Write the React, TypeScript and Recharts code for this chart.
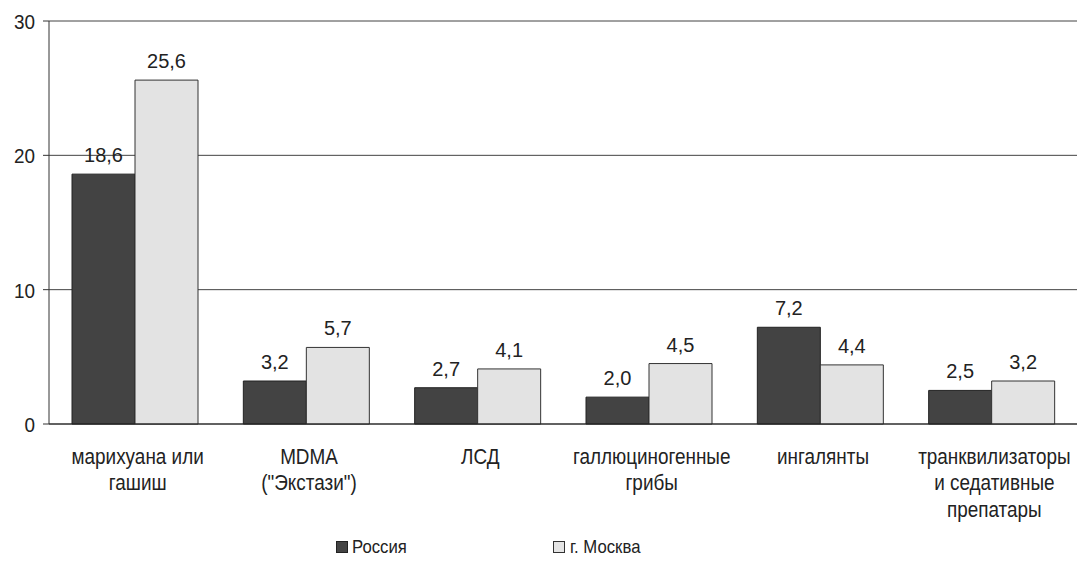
import React from 'react';
import { BarChart, Bar, XAxis, YAxis, CartesianGrid, LabelList, Legend } from 'recharts';

const categories = [
    ['марихуана или', 'гашиш'],
    ['MDMA', '("Экстази")'],
    ['ЛСД'],
    ['галлюциногенные', 'грибы'],
    ['ингалянты'],
    ['транквилизаторы', 'и седативные', 'препатары'],
];
const russia = [18.6, 3.2, 2.7, 2.0, 7.2, 2.5];
const moscow = [25.6, 5.7, 4.1, 4.5, 4.4, 3.2];
const yTicks = [0, 10, 20, 30];

const data = categories.map((c, i) => ({ name: c.join('\n'), russia: russia[i], moscow: moscow[i] }));

const fmt = (v: number) => v.toFixed(1).replace('.', ',');
const FONT = '"Liberation Sans", Arial, sans-serif';

// scanned original has slightly condensed lettering
function CategoryTick(props: any) {
    const { x, y, payload } = props;
    const lines = String(payload.value).split('\n');
    return (
        <g transform={`translate(${x + 3},${y + 32}) scale(0.86,1)`}>
            <text x={0} y={0} textAnchor="middle" fill="#222" fontSize={22} fontFamily={FONT}>
                {lines.map((l, i) => (
                    <tspan key={i} x={0} dy={i === 0 ? 0 : 26.5}>{l}</tspan>
                ))}
            </text>
        </g>
    );
}

function ValueTick(props: any) {
    const { x, y, payload } = props;
    return (
        <g transform={`translate(${x},${y + 8}) scale(0.9,1)`}>
            <text x={0} y={0} textAnchor="end" fill="#222" fontSize={21} fontFamily={FONT}>
                {payload.value}
            </text>
        </g>
    );
}

function LegendBox() {
    const item = { display: 'flex', alignItems: 'center' } as const;
    const label = { display: 'inline-block', transform: 'scaleX(0.88)', transformOrigin: 'left center' } as const;
    return (
        <div style={{ display: 'flex', fontFamily: FONT, fontSize: 19, color: '#222', paddingLeft: 336 }}>
            <div style={{ ...item, width: 217 }}>
                <span style={{ width: 10, height: 10, background: '#444', border: '1px solid #222', marginRight: 4 }} />
                <span style={label}>Россия</span>
            </div>
            <div style={item}>
                <span style={{ width: 10, height: 10, background: '#e4e4e4', border: '1px solid #333', marginRight: 5 }} />
                <span style={label}>г. Москва</span>
            </div>
        </div>
    );
}

export default function App() {
    return (
        <div style={{ position: 'absolute', left: 0, top: 0, background: '#fff' }}>
            <BarChart
                width={1077}
                height={571}
                data={data}
                margin={{ top: 21, right: 0, bottom: 0, left: 0 }}
                barGap={0}
                barSize={63}
            >
                <CartesianGrid vertical={false} stroke="#222" strokeOpacity={0.85} />
                <XAxis
                    dataKey="name"
                    interval={0}
                    axisLine={{ stroke: '#222' }}
                    tickLine={false}
                    tick={<CategoryTick />}
                    height={147}
                />
                <YAxis
                    width={49}
                    domain={[0, 30]}
                    ticks={yTicks}
                    axisLine={{ stroke: '#333' }}
                    tickLine={{ stroke: '#333' }}
                    tickSize={6}
                    tickMargin={8}
                    tick={<ValueTick />}
                />
                <Legend
                    verticalAlign="middle"
                    align="center"
                    content={<LegendBox />}
                    wrapperStyle={{ top: 536, left: 0, width: 1077 }}
                />
                <Bar dataKey="russia" name="Россия" fill="#434343" stroke="#222" isAnimationActive={false}>
                    <LabelList dataKey="russia" position="top" offset={12} formatter={fmt} fill="#222" fontSize={20} fontFamily={FONT} />
                </Bar>
                <Bar dataKey="moscow" name="г. Москва" fill="#e3e3e3" stroke="#333" isAnimationActive={false}>
                    <LabelList dataKey="moscow" position="top" offset={12} formatter={fmt} fill="#222" fontSize={20} fontFamily={FONT} />
                </Bar>
            </BarChart>
        </div>
    );
}
